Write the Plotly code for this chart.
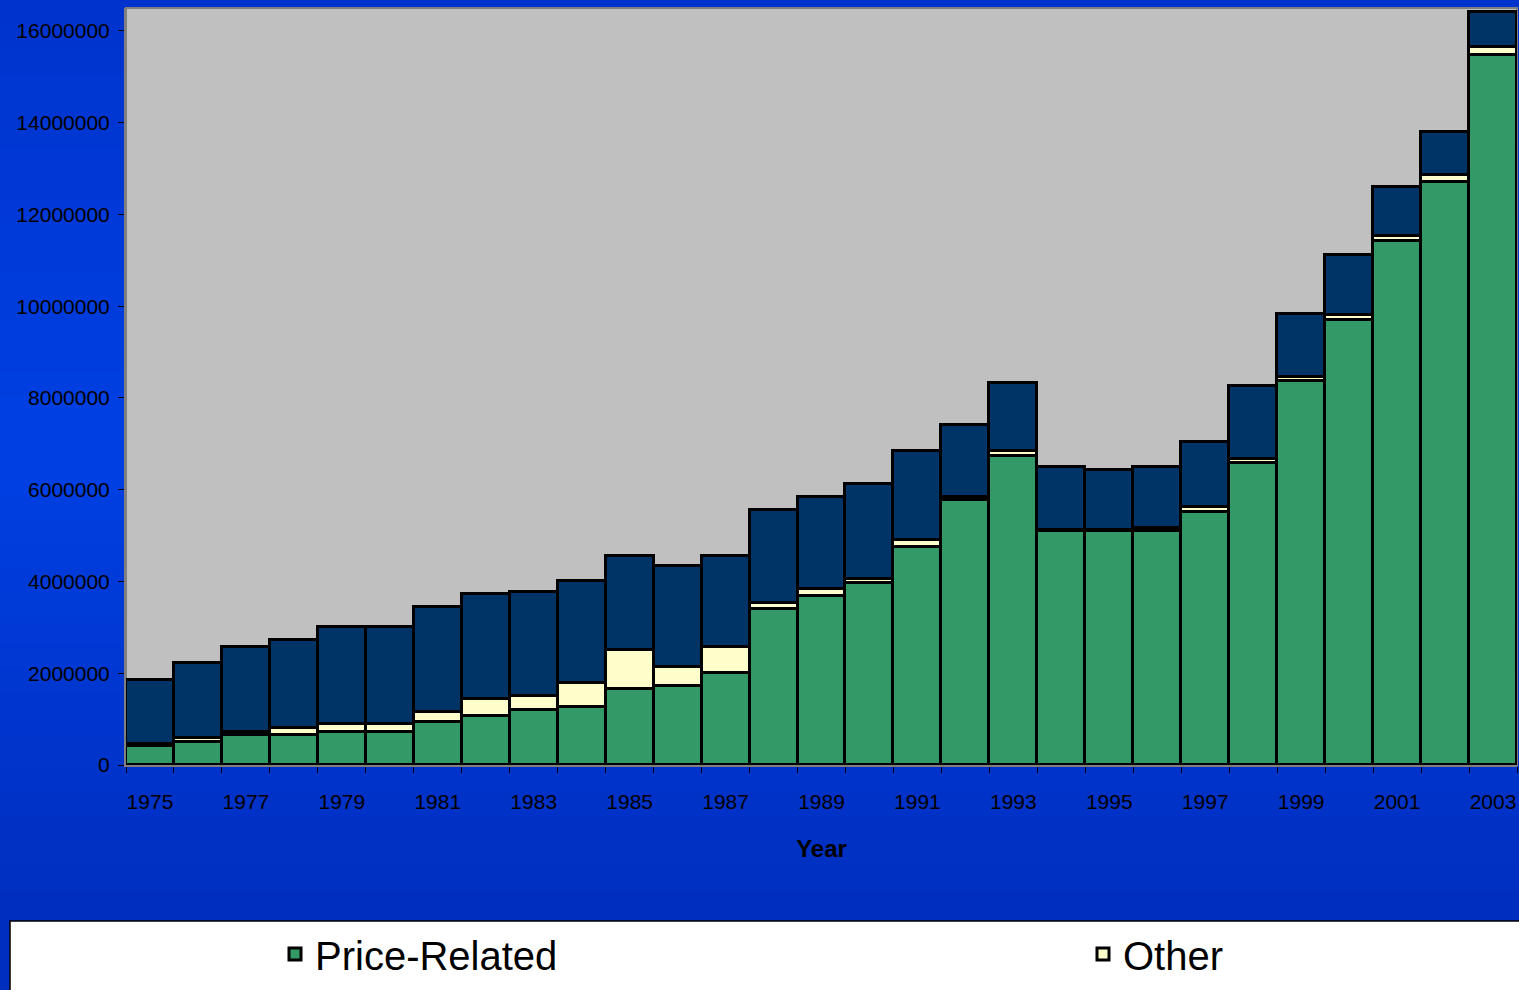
import plotly.graph_objects as go

# ---- data ----
years = [str(y) for y in range(1975, 2004)]
price_related = [420000, 510000, 650000, 650000, 730000, 730000, 940000, 1070000, 1200000, 1270000,
                 1650000, 1720000, 2000000, 3390000, 3680000, 3970000, 4760000, 5780000, 6740000, 5110000,
                 5110000, 5110000, 5520000, 6580000, 8360000, 9700000, 11430000, 12710000, 15480000]
other = [30000, 80000, 80000, 150000, 160000, 160000, 220000, 370000, 310000, 520000,
         860000, 420000, 580000, 150000, 150000, 80000, 140000, 60000, 100000, 20000,
         20000, 60000, 100000, 100000, 100000, 100000, 100000, 150000, 160000]
non_price = [1400000, 1630000, 1850000, 1920000, 2110000, 2110000, 2280000, 2290000, 2270000, 2210000,
             2050000, 2200000, 1980000, 2020000, 2010000, 2080000, 1940000, 1570000, 1490000, 1360000,
             1300000, 1320000, 1430000, 1580000, 1360000, 1320000, 1060000, 940000, 780000]
tick_text = [y if (int(y) - 1975) % 2 == 0 else "" for y in years]

W, H = 1519, 990
ML, MR, MT, MB = 126, 2, 8, 225
PW, PH = W - ML - MR, H - MT - MB

FONT = "Liberation Sans, Arial, sans-serif"
line = dict(color="black", width=3)

fig = go.Figure()
fig.add_trace(go.Bar(x=years, y=price_related, name="Price-Related", legendwidth=763,
                     marker=dict(color="#339966", line=line)))
fig.add_trace(go.Bar(x=years, y=other, name="Other", legendwidth=150,
                     marker=dict(color="#FFFFCC", line=line)))
fig.add_trace(go.Bar(x=years, y=non_price, name="Non-Price", showlegend=False,
                     marker=dict(color="#003366", line=line)))

# background gradient bands (paper coords)
def px_to_paper_y(py):
    return (H - MB - py) / PH

def px_to_paper_x(px):
    return (px - ML) / PW

stops = [(0, (0, 51, 204)), (450, (0, 64, 228)), (920, (0, 46, 190))]
def col_at(py):
    for (y0, c0), (y1, c1) in zip(stops[:-1], stops[1:]):
        if y0 <= py <= y1:
            t = (py - y0) / (y1 - y0)
            return "rgb(%d,%d,%d)" % tuple(round(a + (b - a) * t) for a, b in zip(c0, c1))
    return "rgb(%d,%d,%d)" % stops[-1][1]

shapes = []
nb = 40
for i in range(nb):
    y0 = H * i / nb
    y1 = H * (i + 1) / nb
    shapes.append(dict(type="rect", xref="paper", yref="paper", layer="below",
                       x0=px_to_paper_x(-5), x1=px_to_paper_x(W + 5),
                       y0=px_to_paper_y(y1 + 1), y1=px_to_paper_y(y0),
                       fillcolor=col_at((y0 + y1) / 2), line=dict(width=0)))
# plot area
shapes.append(dict(type="rect", xref="paper", yref="paper", layer="below",
                   x0=0, x1=1, y0=0, y1=1, fillcolor="#C0C0C0",
                   line=dict(color="#808080", width=2)))
# legend box
shapes.append(dict(type="rect", xref="paper", yref="paper", layer="below",
                   x0=px_to_paper_x(10), x1=px_to_paper_x(W + 5),
                   y0=px_to_paper_y(H + 5), y1=px_to_paper_y(921),
                   fillcolor="white", line=dict(color="black", width=1.5)))

fig.update_layout(
    width=W, height=H, autosize=False,
    margin=dict(l=ML, r=MR, t=MT, b=MB, pad=0, autoexpand=False),
    barmode="stack", bargap=0,
    paper_bgcolor="#0033CC", plot_bgcolor="rgba(0,0,0,0)",
    font=dict(family=FONT, color="black", size=21),
    shapes=shapes,
    showlegend=True,
    legend=dict(orientation="h", xref="container", yref="container",
                x=275 / W, y=1 - 954 / H, xanchor="left", yanchor="middle",
                bgcolor="rgba(0,0,0,0)", borderwidth=0,
                font=dict(family=FONT, size=40, color="black"),
                entrywidthmode="pixels",
                traceorder="normal"),
    xaxis=dict(type="category", tickmode="array", tickvals=years, ticktext=tick_text,
               tickson="boundaries", ticks="outside", ticklen=6, tickcolor="black",
               tickangle=0, automargin=False,
               showline=True, linecolor="#808080", linewidth=2,
               showgrid=False, zeroline=False,
               ticklabelstandoff=17,
               tickfont=dict(family=FONT, size=21, color="black"),
               title=dict(text="<b>Year</b>", standoff=28,
                          font=dict(family=FONT, size=24, color="black"))),
    yaxis=dict(range=[0, 16500000], dtick=2000000, tick0=0, tickformat="d",
               ticks="outside", ticklen=6, tickcolor="black", automargin=False,
               showline=True, linecolor="#808080", linewidth=2,
               showgrid=False, zeroline=False,
               ticklabelstandoff=4,
               tickfont=dict(family=FONT, size=21, color="black")),
)

fig.write_html("out.html")
